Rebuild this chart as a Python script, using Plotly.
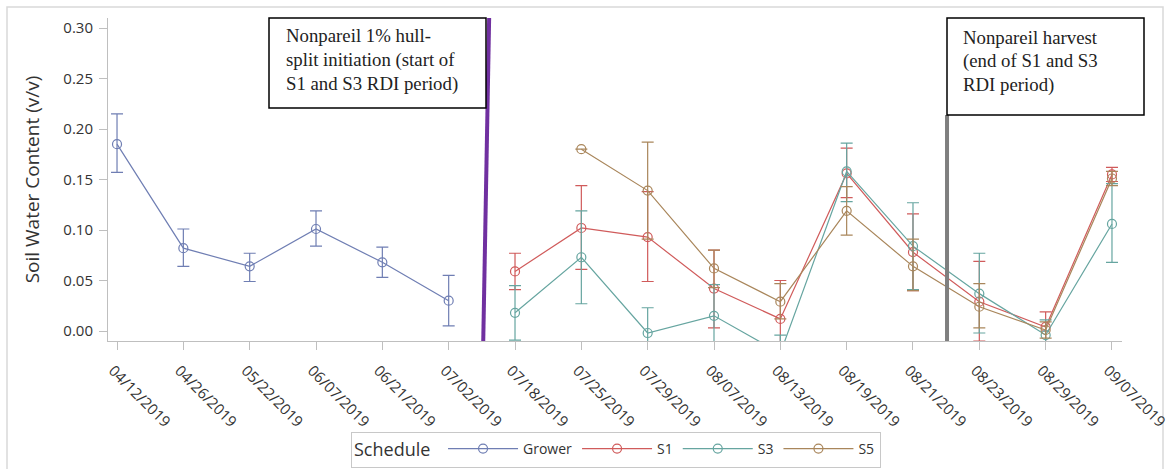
import plotly.graph_objects as go

# ---------------- data ----------------
dates = ["04/12/2019", "04/26/2019", "05/22/2019", "06/07/2019", "06/21/2019",
         "07/02/2019", "07/18/2019", "07/25/2019", "07/29/2019", "08/07/2019",
         "08/13/2019", "08/19/2019", "08/21/2019", "08/23/2019", "08/29/2019",
         "09/07/2019"]

grower_mean = [0.185, 0.082, 0.064, 0.101, 0.068, 0.030,
               None, None, None, None, None, None, None, None, None, None]
grower_low = [0.157, 0.064, 0.049, 0.084, 0.053, 0.005,
              None, None, None, None, None, None, None, None, None, None]
grower_high = [0.215, 0.101, 0.077, 0.119, 0.083, 0.055,
               None, None, None, None, None, None, None, None, None, None]

s1_mean = [None, None, None, None, None, None,
           0.059, 0.102, 0.093, 0.042, 0.012, 0.156, 0.078, 0.029, 0.004, 0.155]
s1_low = [None, None, None, None, None, None,
          0.041, 0.061, 0.049, 0.003, -0.026, 0.132, 0.040, -0.010, -0.011, 0.148]
s1_high = [None, None, None, None, None, None,
           0.077, 0.144, 0.138, 0.080, 0.050, 0.181, 0.116, 0.069, 0.019, 0.162]

s3_mean = [None, None, None, None, None, None,
           0.018, 0.073, -0.002, 0.015, -0.022, 0.158, 0.084, 0.037, -0.004, 0.106]
s3_low = [None, None, None, None, None, None,
          -0.009, 0.027, -0.026, -0.016, -0.040, 0.128, 0.041, -0.002, -0.019, 0.068]
s3_high = [None, None, None, None, None, None,
           0.045, 0.119, 0.023, 0.046, -0.004, 0.186, 0.127, 0.077, 0.011, 0.146]

s5_mean = [None, None, None, None, None, None,
           None, 0.180, 0.139, 0.062, 0.029, 0.119, 0.064, 0.024, 0.001, 0.151]
s5_low = [None, None, None, None, None, None,
          None, 0.180, 0.091, 0.043, 0.012, 0.095, 0.040, 0.003, -0.007, 0.144]
s5_high = [None, None, None, None, None, None,
           None, 0.180, 0.187, 0.080, 0.047, 0.143, 0.091, 0.047, 0.009, 0.158]

series_names = ["Grower", "S1", "S3", "S5"]
series_colors = ["#6F7EB3", "#D05B5B", "#66A5A0", "#A9865B"]

y_ticks = [0.00, 0.05, 0.10, 0.15, 0.20, 0.25, 0.30]
y_tick_labels = ["0.00", "0.05", "0.10", "0.15", "0.20", "0.25", "0.30"]

box1_lines = ["Nonpareil 1% hull-", "split initiation (start of", "S1 and S3 RDI period)"]
box2_lines = ["Nonpareil harvest", "(end of S1 and S3", "RDI period)"]

# ---------------- layout helpers ----------------
W, H = 1169, 469
L, R, T, B = 108, 47, 18, 128
PW, PH = W - L - R, H - T - B
Y0, Y1 = -0.0099, 0.3099


def px_x(px):
    return (px - L) / PW


def px_y(py):
    return (H - B - py) / PH


def py_val(py):
    return Y0 + px_y(py) * (Y1 - Y0)


fig = go.Figure()

all_series = [
    (grower_mean, grower_low, grower_high),
    (s1_mean, s1_low, s1_high),
    (s3_mean, s3_low, s3_high),
    (s5_mean, s5_low, s5_high),
]

for name, col, (m, lo, hi) in zip(series_names, series_colors, all_series):
    plus = [0 if v is None else h - v for v, h in zip(m, hi)]
    minus = [0 if v is None else v - l for v, l in zip(m, lo)]
    fig.add_trace(go.Scatter(
        x=dates, y=m, name=name, mode="lines+markers",
        line=dict(color=col, width=1.2),
        marker=dict(symbol="circle-open", size=9, color=col, line=dict(width=1.2)),
        error_y=dict(type="data", symmetric=False, array=plus, arrayminus=minus,
                     color=col, thickness=1.2, width=6),
        connectgaps=False,
    ))

fig.update_layout(
    width=W, height=H,
    margin=dict(l=L, r=R, t=T, b=B, autoexpand=False),
    paper_bgcolor="white", plot_bgcolor="white",
    font=dict(family="Open Sans", color="#333333"),
    showlegend=True,
    legend=dict(
        orientation="h", xref="container", x=616 / W, xanchor="center",
        yref="container", y=1 - 432 / H, yanchor="top",
        title=dict(text="Schedule ", font=dict(size=18, color="#333333")),
        font=dict(size=14, color="#333333"),
        bordercolor="#c8c8c8", borderwidth=1, bgcolor="white",
        itemwidth=70,
    ),
)

fig.update_xaxes(
    type="category", categoryorder="array", categoryarray=dates,
    range=[-0.136, 15.151], automargin=False,
    showline=True, linecolor="#bfbfbf", linewidth=1,
    ticks="outside", ticklen=8, tickcolor="#bfbfbf",
    tickangle=45, tickfont=dict(size=15, color="#333333"),
    ticklabelstandoff=6, ticklabelshift=-4,
    showgrid=False, zeroline=False,
)
fig.update_yaxes(
    range=[Y0, Y1], automargin=False,
    tickvals=y_ticks, ticktext=y_tick_labels,
    showline=True, linecolor="#bfbfbf", linewidth=1,
    ticks="outside", ticklen=8, tickcolor="#bfbfbf",
    tickfont=dict(size=15, color="#333333"), ticklabelstandoff=3,
    title=dict(text="Soil Water Content (v/v)", font=dict(size=19, color="#333333"), standoff=18),
    showgrid=False, zeroline=False,
)

shapes = []
# outer frame
shapes.append(dict(type="rect", xref="paper", yref="paper",
                   x0=px_x(7), x1=px_x(1163), y0=px_y(470), y1=px_y(7),
                   line=dict(color="#d9d9d9", width=1.5), fillcolor="rgba(0,0,0,0)",
                   layer="below"))
# purple line (start of RDI)
shapes.append(dict(type="line", xref="x", yref="y",
                   x0=5.52, x1=5.61, y0=py_val(345), y1=py_val(18),
                   line=dict(color="#7030A0", width=4), layer="above"))
# grey line (harvest)
shapes.append(dict(type="line", xref="x", yref="y",
                   x0=12.513, x1=12.513, y0=py_val(345), y1=py_val(115),
                   line=dict(color="#7f7f7f", width=4), layer="above"))
# text boxes
shapes.append(dict(type="rect", xref="paper", yref="paper",
                   x0=px_x(269), x1=px_x(486), y0=px_y(108), y1=px_y(18),
                   line=dict(color="black", width=1.5), fillcolor="white", layer="above"))
shapes.append(dict(type="rect", xref="paper", yref="paper",
                   x0=px_x(947), x1=px_x(1144), y0=px_y(115), y1=px_y(18),
                   line=dict(color="black", width=1.5), fillcolor="white", layer="above"))
fig.update_layout(shapes=shapes)

annotations = []
for i, t in enumerate(box1_lines):
    annotations.append(dict(xref="paper", yref="paper", x=px_x(284), y=px_y(36 + 24 * i),
                            xanchor="left", yanchor="middle", text=t, showarrow=False,
                            font=dict(family="Liberation Serif", size=18.8, color="#222222")))
for i, t in enumerate(box2_lines):
    annotations.append(dict(xref="paper", yref="paper", x=px_x(961), y=px_y(37 + 24 * i),
                            xanchor="left", yanchor="middle", text=t, showarrow=False,
                            font=dict(family="Liberation Serif", size=18.8, color="#222222")))
fig.update_layout(annotations=annotations)

fig.write_html("out.html")
